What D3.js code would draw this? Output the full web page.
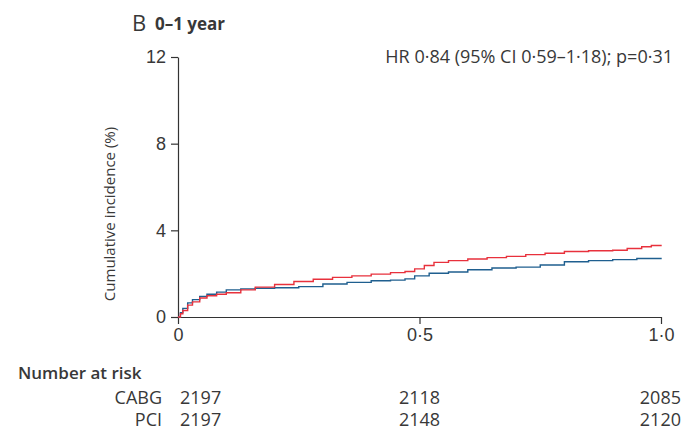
<!DOCTYPE html>
<html>
<head>
<meta charset="utf-8">
<script src="https://cdn.jsdelivr.net/npm/d3@7"></script>
<style>
  body { margin: 0; background: #fff; }
  svg { font-family: "Open Sans", "Noto Sans", sans-serif; }
  text { fill: #383838; }
</style>
</head>
<body>
<div id="chart"></div>
<script>
// Cumulative incidence, years 0-1
var redTimes  = [0, 0.005, 0.01, 0.02, 0.03, 0.045, 0.06, 0.08, 0.1, 0.13, 0.16, 0.2, 0.24, 0.28, 0.32, 0.36, 0.4, 0.44, 0.47, 0.49, 0.51, 0.53, 0.56, 0.6, 0.64, 0.68, 0.72, 0.76, 0.8, 0.85, 0.9, 0.93, 0.96, 0.98, 1.0]
var redValues = [0, 0.15, 0.3, 0.55, 0.7, 0.88, 0.98, 1.05, 1.12, 1.25, 1.38, 1.5, 1.64, 1.74, 1.83, 1.9, 1.98, 2.05, 2.1, 2.22, 2.38, 2.52, 2.6, 2.68, 2.74, 2.8, 2.88, 2.94, 3.02, 3.06, 3.08, 3.16, 3.24, 3.3, 3.34]

var blueTimes  = [0, 0.005, 0.01, 0.02, 0.03, 0.045, 0.06, 0.08, 0.1, 0.13, 0.16, 0.2, 0.25, 0.3, 0.35, 0.4, 0.44, 0.47, 0.49, 0.52, 0.56, 0.6, 0.65, 0.7, 0.75, 0.8, 0.85, 0.9, 0.95, 1.0]
var blueValues = [0, 0.2, 0.4, 0.65, 0.8, 0.95, 1.05, 1.15, 1.25, 1.3, 1.33, 1.35, 1.4, 1.52, 1.6, 1.67, 1.7, 1.76, 1.9, 2.02, 2.08, 2.18, 2.26, 2.3, 2.4, 2.55, 2.6, 2.65, 2.7, 2.74]

var yTicks = [0, 4, 8, 12]
var xTicks = [0, 0.5, 1]
var xTickLabels = ["0", "0·5", "1·0"]

// Number at risk
var riskGroups = ["CABG", "PCI"]
var riskTimes = [0, 0.5, 1]
var riskCABG = [2197, 2118, 2085]
var riskPCI = [2197, 2148, 2120]

var width = 681, height = 431
var margin = { left: 178, right: 20, top: 57, bottom: 114 }

var svg = d3.select("#chart").append("svg")
    .attr("width", width)
    .attr("height", height)

var x = d3.scaleLinear().domain([0, 1]).range([margin.left, 661])
var y = d3.scaleLinear().domain([0, 12]).range([317, margin.top])

// Panel title
svg.append("text").attr("x", 132).attr("y", 31)
    .style("font-size", "22px").text("B")
svg.append("text").attr("x", 155).attr("y", 30)
    .style("font-size", "17px").style("font-weight", "bold").text("0–1 year")

// y axis
var yAxis = svg.append("g")
    .attr("transform", "translate(" + margin.left + ",0)")
    .call(d3.axisLeft(y).tickValues(yTicks).tickSize(7).tickPadding(5).tickSizeOuter(0))
yAxis.selectAll("text").style("font-size", "18px").style("font-family", "inherit").attr("fill", "#383838")

// x axis
var xAxis = svg.append("g")
    .attr("transform", "translate(0," + y(0) + ")")
    .call(d3.axisBottom(x).tickValues(xTicks).tickFormat((d, i) => xTickLabels[i]).tickSize(7).tickPadding(4).tickSizeOuter(0))
xAxis.selectAll("text").style("font-size", "18px").style("font-family", "inherit").attr("fill", "#383838")

svg.selectAll(".domain, .tick line").attr("stroke", "#333").attr("stroke-width", 1.2)

svg.append("text")
    .attr("transform", "translate(115,214) rotate(-90)")
    .attr("text-anchor", "middle")
    .style("font-size", "15px")
    .text("Cumulative incidence (%)")

svg.append("text").attr("x", 673).attr("y", 63)
    .attr("text-anchor", "end")
    .style("font-size", "18px")
    .text("HR 0·84 (95% CI 0·59–1·18); p=0·31")

// Curves
var line = d3.line()
    .x(d => x(d[0]))
    .y(d => y(d[1]))
    .curve(d3.curveStepAfter)

var series = [
    { times: blueTimes, values: blueValues, color: "#1f5f8f" },
    { times: redTimes, values: redValues, color: "#e8313c" }
]

series.forEach(s => {
    svg.append("path")
        .datum(s.times.map((t, i) => [t, s.values[i]]))
        .attr("d", line)
        .attr("fill", "none")
        .attr("stroke", s.color)
        .attr("stroke-width", 1.4)
})

// Number at risk table
svg.append("text").attr("x", 18).attr("y", 379)
    .style("font-size", "17px").style("font-weight", "600")
    .text("Number at risk")

var riskRows = [riskCABG, riskPCI]
riskRows.forEach((row, r) => {
    var rowY = 404 + r * 22
    svg.append("text").attr("x", 162).attr("y", rowY)
        .attr("text-anchor", "end").style("font-size", "18px")
        .text(riskGroups[r])
    row.forEach((n, i) => {
        var anchor = i === 0 ? "start" : (i === row.length - 1 ? "end" : "middle")
        var px = i === 0 ? x(riskTimes[i]) + 2 : (i === row.length - 1 ? 681 : x(riskTimes[i]))
        svg.append("text").attr("x", px).attr("y", rowY)
            .attr("text-anchor", anchor).style("font-size", "18px")
            .text(n)
    })
})
</script>
</body>
</html>
